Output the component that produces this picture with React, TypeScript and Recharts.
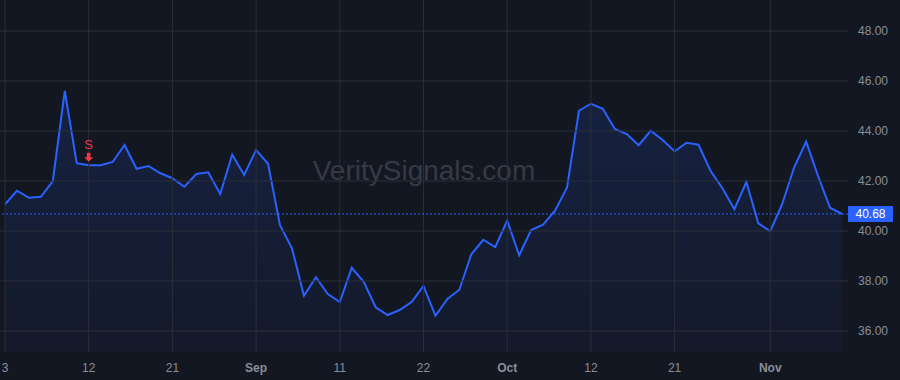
import React from "react";
import {
  AreaChart,
  Area,
  XAxis,
  YAxis,
  ReferenceLine,
  ReferenceDot,
} from "recharts";

const dates: string[] = [
  "2020-08-03", "2020-08-04", "2020-08-05", "2020-08-06", "2020-08-07",
  "2020-08-10", "2020-08-11", "2020-08-12", "2020-08-13", "2020-08-14",
  "2020-08-17", "2020-08-18", "2020-08-19", "2020-08-20", "2020-08-21",
  "2020-08-24", "2020-08-25", "2020-08-26", "2020-08-27", "2020-08-28",
  "2020-08-31",
  "2020-09-01", "2020-09-02", "2020-09-03", "2020-09-04", "2020-09-08",
  "2020-09-09", "2020-09-10", "2020-09-11", "2020-09-14", "2020-09-15",
  "2020-09-16", "2020-09-17", "2020-09-18", "2020-09-21", "2020-09-22",
  "2020-09-23", "2020-09-24", "2020-09-25", "2020-09-28", "2020-09-29",
  "2020-09-30",
  "2020-10-01", "2020-10-02", "2020-10-05", "2020-10-06", "2020-10-07",
  "2020-10-08", "2020-10-09", "2020-10-12", "2020-10-13", "2020-10-14",
  "2020-10-15", "2020-10-16", "2020-10-19", "2020-10-20", "2020-10-21",
  "2020-10-22", "2020-10-23", "2020-10-26", "2020-10-27", "2020-10-28",
  "2020-10-29", "2020-10-30",
  "2020-11-02", "2020-11-03", "2020-11-04", "2020-11-05", "2020-11-06",
  "2020-11-09", "2020-11-10",
];

const closes: number[] = [
  41.07, 41.61, 41.33, 41.37, 42.0, 45.6, 42.71, 42.63, 42.63, 42.76,
  43.44, 42.49, 42.6, 42.31, 42.11, 41.77, 42.28, 42.35, 41.48, 43.05,
  42.24, 43.24, 42.69, 40.23, 39.31, 37.41, 38.15, 37.48, 37.16, 38.53,
  37.97, 36.95, 36.64, 36.84, 37.16, 37.8, 36.61, 37.28, 37.65, 39.07,
  39.65, 39.36, 40.41, 39.03, 40.04, 40.25, 40.81, 41.73, 44.81, 45.09,
  44.89, 44.08, 43.88, 43.43, 44.01, 43.64, 43.19, 43.53, 43.45, 42.41,
  41.71, 40.87, 41.96, 40.31, 39.99, 41.08, 42.55, 43.57, 42.2, 40.93,
  40.68,
];

const tickDates: string[] = [
  "2020-08-03", "2020-08-12", "2020-08-21", "2020-09-01", "2020-09-11",
  "2020-09-22", "2020-10-01", "2020-10-12", "2020-10-21", "2020-11-02",
];
const tickLabels: string[] = ["3", "12", "21", "Sep", "11", "22", "Oct", "12", "21", "Nov"];
const monthLabels: string[] = ["Sep", "Oct", "Nov"];

const priceTicks: number[] = [36, 38, 40, 42, 44, 46, 48];
const lastPrice = 40.68;
const signalDate = "2020-08-12";
const signalLabel = "S";
const watermark = "VeritySignals.com";

const data = dates.map((d, i) => ({ date: d, close: closes[i] }));
const signalValue = closes[dates.indexOf(signalDate)];

const BG = "#131722";
const GRID = "#2a2e39";
const TEXT = "#8a8e98";
const BLUE = "#2962ff";
const RED = "#f23645";
const FONT = "'Liberation Sans', Arial, sans-serif";

const XTick = (props: any) => {
  const { x, y, payload } = props;
  const idx = tickDates.indexOf(payload.value);
  const label = idx >= 0 ? tickLabels[idx] : "";
  const bold = monthLabels.includes(label);
  return (
    <text
      x={x}
      y={y + 3}
      dy="0.71em"
      textAnchor="middle"
      fill={TEXT}
      fontSize={12}
      fontWeight={bold ? 700 : 400}
      fontFamily={FONT}
    >
      {label}
    </text>
  );
};

const PriceLabel = (props: any) => {
  const { viewBox } = props;
  const x = viewBox.x + viewBox.width;
  const y = viewBox.y;
  return (
    <g>
      <rect x={x} y={y - 8} width={45} height={16} fill={BLUE} rx={1} />
      <text
        x={x + 22.5}
        y={y}
        dy="0.35em"
        textAnchor="middle"
        fill="#ffffff"
        fontSize={12}
        fontFamily={FONT}
      >
        {lastPrice.toFixed(2)}
      </text>
    </g>
  );
};

const SignalShape = (props: any) => {
  const { cx, cy } = props;
  const tip = cy - 3.5;
  return (
    <g>
      <text
        x={cx}
        y={cy - 16}
        textAnchor="middle"
        fill={RED}
        fontSize={13}
        fontFamily={FONT}
      >
        {signalLabel}
      </text>
      <path
        d={`M${cx - 1.8},${tip - 9} L${cx + 1.8},${tip - 9} L${cx + 1.8},${tip - 4.5} L${cx + 4.5},${tip - 4.5} L${cx},${tip} L${cx - 4.5},${tip - 4.5} L${cx - 1.8},${tip - 4.5} Z`}
        fill={RED}
      />
    </g>
  );
};

export default function App() {
  return (
    <div
      style={{
        position: "absolute",
        left: 0,
        top: 0,
        width: 900,
        height: 380,
        background: BG,
        overflow: "hidden",
      }}
    >
      <div
        style={{
          position: "absolute",
          left: 0,
          width: 848,
          top: 155,
          textAlign: "center",
          fontFamily: FONT,
          fontSize: 28,
          color: "#363a45",
          whiteSpace: "nowrap",
        }}
      >
        {watermark}
      </div>
      <div style={{ position: "absolute", left: 0, top: 0 }}>
        <AreaChart
          width={900}
          height={380}
          data={data}
          margin={{ top: 0, right: 0, bottom: 0, left: 0 }}
        >
          <defs>
            <linearGradient id="fillGrad" x1="0" y1="0" x2="0" y2="1">
              <stop offset="0%" stopColor={BLUE} stopOpacity={0.24} />
              <stop offset="100%" stopColor={BLUE} stopOpacity={0.06} />
            </linearGradient>
          </defs>
          <XAxis
            dataKey="date"
            type="category"
            ticks={tickDates}
            interval={0}
            padding={{ left: 5, right: 6 }}
            height={28}
            axisLine={false}
            tickLine={false}
            tick={<XTick />}
          />
          <YAxis
            orientation="right"
            width={52}
            domain={[35.16, 49.24]}
            allowDataOverflow
            ticks={priceTicks}
            tickFormatter={(v: number) => v.toFixed(2)}
            axisLine={false}
            tickLine={false}
            tickMargin={4}
            tick={{ fill: TEXT, fontSize: 12, fontFamily: FONT }}
          />
          {tickDates.map((d) => (
            <ReferenceLine key={"vx" + d} x={d} stroke={GRID} strokeWidth={1} />
          ))}
          {priceTicks.map((v) => (
            <ReferenceLine key={"hy" + v} y={v} stroke={GRID} strokeWidth={1} />
          ))}
          <Area
            type="linear"
            dataKey="close"
            stroke={BLUE}
            strokeWidth={2}
            fill="url(#fillGrad)"
            isAnimationActive={false}
            dot={false}
            activeDot={false}
          />
          <ReferenceLine
            y={lastPrice}
            stroke={BLUE}
            strokeDasharray="2 2"
            strokeWidth={1}
            label={<PriceLabel />}
          />
          <ReferenceDot
            x={signalDate}
            y={signalValue}
            shape={<SignalShape />}
            isFront
          />
        </AreaChart>
      </div>
    </div>
  );
}
